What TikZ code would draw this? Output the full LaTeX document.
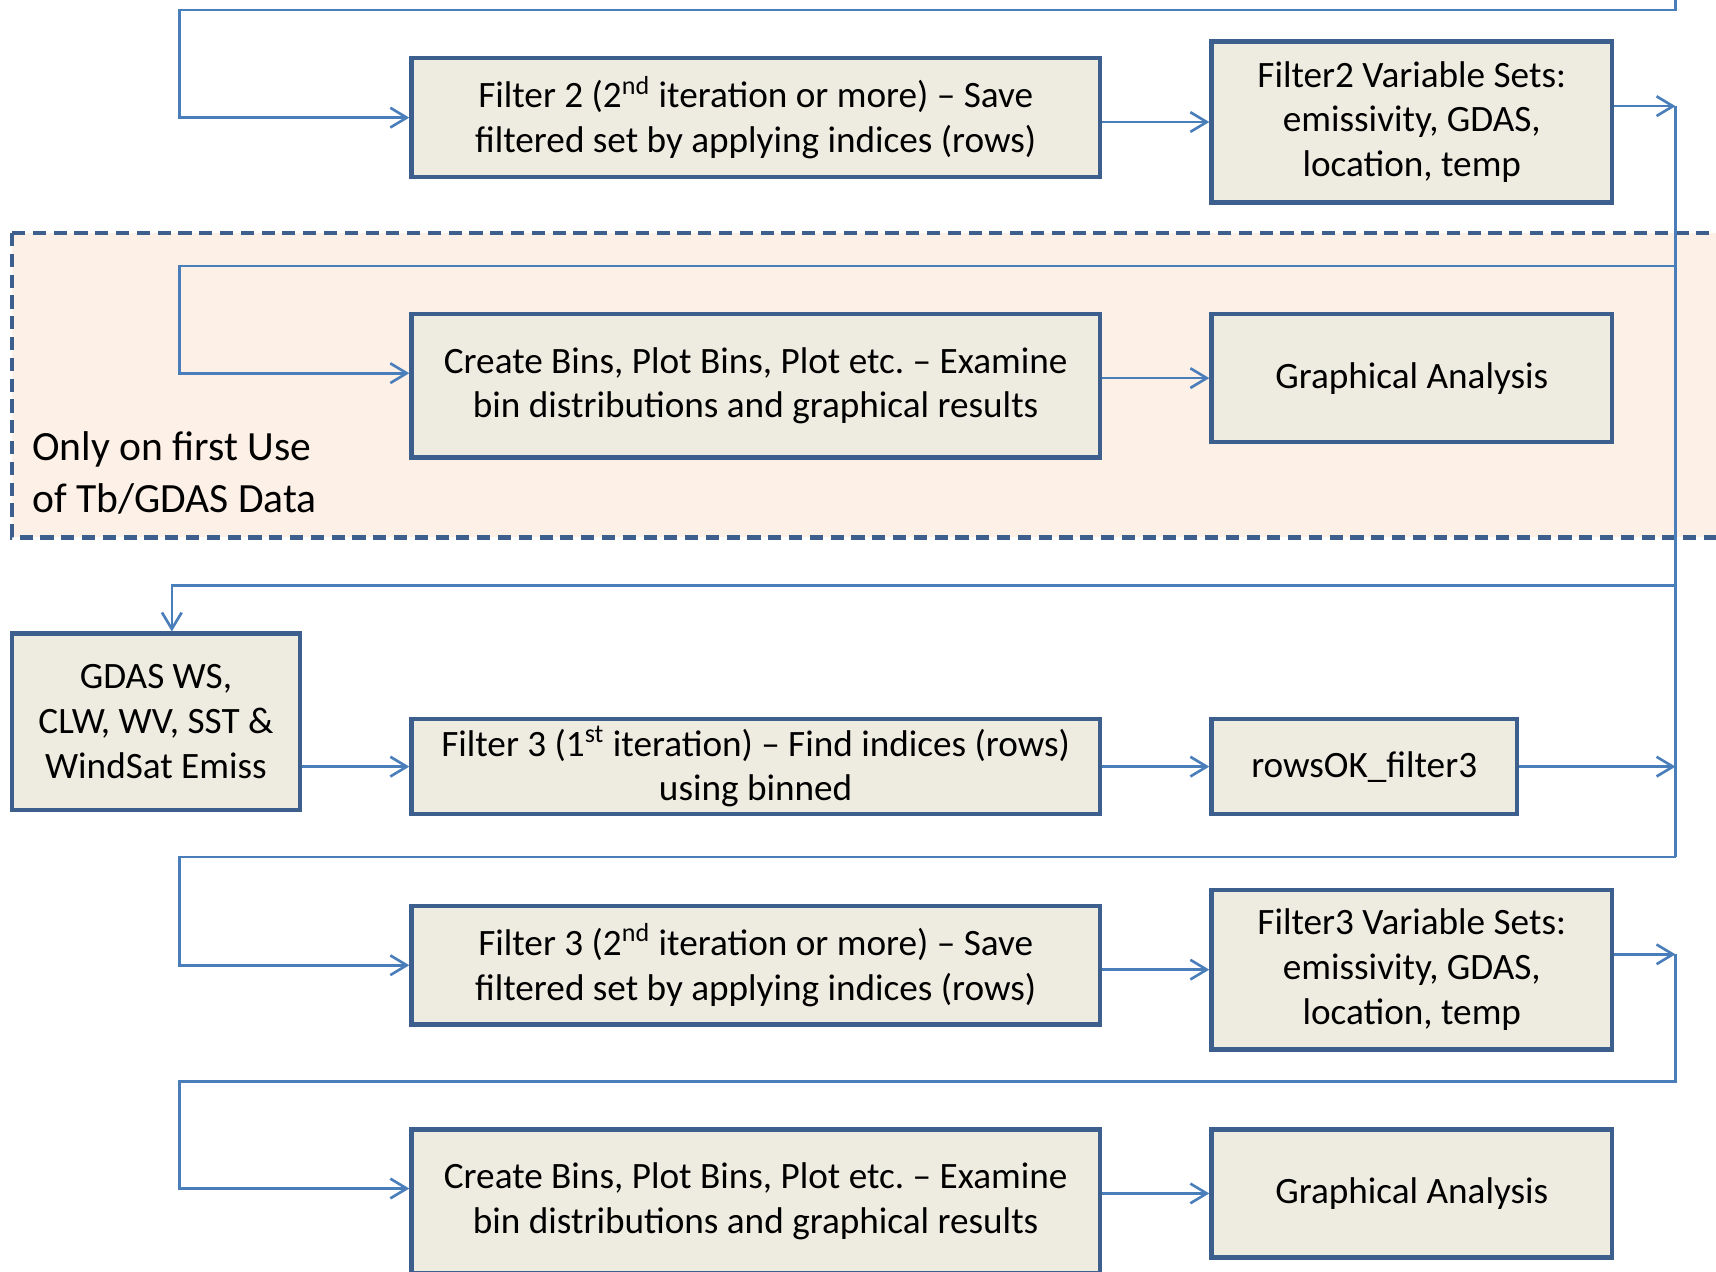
\documentclass[tikz,border=0pt]{standalone}
\usepackage{fontspec}
\setmainfont{Carlito}
\usetikzlibrary{arrows.meta}
\definecolor{boxfill}{HTML}{EEECE1}
\definecolor{boxline}{HTML}{3D5F8E}
\definecolor{connline}{HTML}{4A7EBB}
\definecolor{zonefill}{HTML}{FDF0E7}
\frenchspacing
\begin{document}
\begin{tikzpicture}[x=0.5pt,y=-0.5pt,
  stepbox/.style={draw=boxline, line width=2pt, fill=boxfill, align=center,
    inner sep=0pt, font=\fontsize{17}{20.5}\selectfont},
  conn/.style={draw=connline, line width=1.2pt},
  arr/.style={conn, -{Straight Barb[length=7.5pt,width=9pt,line width=1.2pt]}},
  zone/.style={draw=boxline, line width=2pt, dash pattern=on 6pt off 3.5pt, fill=zonefill},
]
\clip (0,0) rectangle (1568,1162);
\fill[white] (0,0) rectangle (1568,1162);

% shaded region for the first-use steps
\draw[zone] (11,213) rectangle (1620,491);
\node[anchor=west, align=left, inner sep=0pt, font=\fontsize{19}{23.5}\selectfont] (zonelabel)
  at (29,432) {Only on first Use\\of Tb/GDAS Data};

% right-hand bus line and its coordinates
\coordinate (bus) at (1531,0);
\coordinate (busTop) at (1531,0);

% process boxes
\node[stepbox, minimum width=314.5pt, minimum height=54.5pt] (F2) at (690.5,107.5)
  {Filter 2 (2\textsuperscript{nd} iteration or more) – Save\\filtered set by applying indices (rows)};
\node[stepbox, minimum width=183pt, minimum height=73.5pt] (F2V) at (1290,111.5)
  {Filter2 Variable Sets:\\emissivity, GDAS,\\location, temp};
\node[stepbox, minimum width=314.5pt, minimum height=65.5pt] (CB1) at (690.5,352.5)
  {Create Bins, Plot Bins, Plot etc. – Examine\\bin distributions and graphical results};
\node[stepbox, minimum width=183pt, minimum height=58.5pt] (GA1) at (1290,345.5)
  {Graphical Analysis};
\node[stepbox, minimum width=131.5pt, minimum height=80.5pt] (GDAS) at (142.5,659.5)
  {GDAS WS,\\CLW, WV, SST \&\\WindSat Emiss};
\node[stepbox, minimum width=314.5pt, minimum height=43.5pt] (F3a) at (690.5,700.5)
  {Filter 3 (1\textsuperscript{st} iteration) – Find indices (rows)\\using binned};
\node[stepbox, minimum width=139.5pt, minimum height=43.5pt] (rows) at (1246.5,700.5)
  {rowsOK\_filter3};
\node[stepbox, minimum width=314.5pt, minimum height=54pt] (F3b) at (690.5,882)
  {Filter 3 (2\textsuperscript{nd} iteration or more) – Save\\filtered set by applying indices (rows)};
\node[stepbox, minimum width=183pt, minimum height=73pt] (F3V) at (1290,886)
  {Filter3 Variable Sets:\\emissivity, GDAS,\\location, temp};
\node[stepbox, minimum width=314.5pt, minimum height=65.5pt] (CB2) at (690.5,1097.5)
  {Create Bins, Plot Bins, Plot etc. – Examine\\bin distributions and graphical results};
\node[stepbox, minimum width=183pt, minimum height=58.5pt] (GA2) at (1290,1090.5)
  {Graphical Analysis};

% direct arrows between neighbouring boxes
\draw[arr] (F2.east |- F2V.west) -- (F2V.west);
\draw[arr] (CB1.east |- GA1.west) -- (GA1.west);
\draw[arr] (GDAS.east |- F3a.west) -- (F3a.west);
\draw[arr] (F3a.east) -- (rows.west);
\draw[arr] (F3b.east |- F3V.west) -- (F3V.west);
\draw[arr] (CB2.east |- GA2.west) -- (GA2.west);

% outputs onto the bus
\draw[arr] ([yshift=7.25pt]F2V.east) coordinate (o2) -- (o2 -| bus);
\draw[arr] (rows.east) -- (rows.east -| bus);
\draw[arr] ([yshift=7pt]F3V.east) coordinate (o3) -- (o3 -| bus);

% loop-back connectors
\draw[arr] (busTop) |- (164,9) |- (F2.west);
\draw[conn] (o2 -| bus) -- (1531,783);
\draw[arr] (1531,243) -| (164,341) -- ([yshift=5.75pt]CB1.west);
\draw[arr] (1531,535) -| ([xshift=7.25pt]GDAS.north);
\draw[arr] (1531,783) -| (164,882) -- (F3b.west);
\draw[arr] (o3 -| bus) |- (164,988) |- ([yshift=5.75pt]CB2.west);
\end{tikzpicture}
\end{document}
